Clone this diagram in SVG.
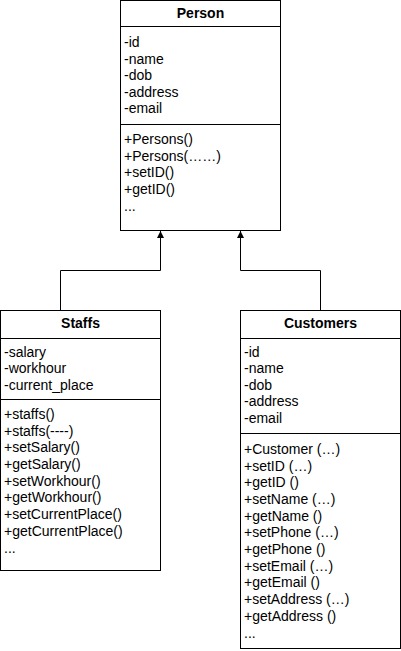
<svg xmlns="http://www.w3.org/2000/svg" width="401" height="651" viewBox="0 0 401 651">
<style>
.box{fill:#fff;stroke:#000;stroke-width:1}
.ln{stroke:#000;stroke-width:1;fill:none}
.t{font-family:"Liberation Sans",Arial,sans-serif;font-size:14px;fill:#000}
.h{font-family:"Liberation Sans",Arial,sans-serif;font-size:14px;font-weight:bold;fill:#000;text-anchor:middle}
</style>
<defs>
<marker id="arr" viewBox="0 0 10 10" refX="10" refY="5" markerWidth="8" markerHeight="7" orient="auto" markerUnits="userSpaceOnUse">
<path d="M0,0 L10,5 L0,10 Z" fill="#000"/>
</marker>
</defs>
<rect width="401" height="651" fill="#fff"/>
<g id="connectors">
<path class="ln" d="M60.5,310.5 V270.5 H160.5 V231" marker-end="url(#arr)"/>
<path class="ln" d="M320.5,310.5 V270.5 H240.5 V231" marker-end="url(#arr)"/>
</g>
<g id="person">
<rect class="box" x="120.5" y="0.5" width="160" height="230"/>
<line class="ln" x1="120.5" y1="26.5" x2="280.5" y2="26.5"/>
<line class="ln" x1="120.5" y1="124.5" x2="280.5" y2="124.5"/>
<text class="h" x="200.5" y="18">Person</text>
<text class="t"><tspan x="124" y="47">-id</tspan><tspan x="124" y="64">-name</tspan><tspan x="124" y="80">-dob</tspan><tspan x="124" y="97">-address</tspan><tspan x="124" y="113">-email</tspan></text>
<text class="t"><tspan x="124" y="144">+Persons()</tspan><tspan x="124" y="161">+Persons(……)</tspan><tspan x="124" y="177">+setID()</tspan><tspan x="124" y="194">+getID()</tspan><tspan x="124" y="211">...</tspan></text>
</g>
<g id="staffs">
<rect class="box" x="0.5" y="310.5" width="160" height="260"/>
<line class="ln" x1="0.5" y1="338.5" x2="160.5" y2="338.5"/>
<line class="ln" x1="0.5" y1="399.5" x2="160.5" y2="399.5"/>
<text class="h" x="80.5" y="328">Staffs</text>
<text class="t"><tspan x="4" y="357">-salary</tspan><tspan x="4" y="373">-workhour</tspan><tspan x="4" y="390">-current_place</tspan></text>
<text class="t"><tspan x="4" y="419">+staffs()</tspan><tspan x="4" y="436">+staffs(----)</tspan><tspan x="4" y="452">+setSalary()</tspan><tspan x="4" y="469">+getSalary()</tspan><tspan x="4" y="486">+setWorkhour()</tspan><tspan x="4" y="502">+getWorkhour()</tspan><tspan x="4" y="519">+setCurrentPlace()</tspan><tspan x="4" y="536">+getCurrentPlace()</tspan><tspan x="4" y="553">...</tspan></text>
</g>
<g id="customers">
<rect class="box" x="240.5" y="310.5" width="160" height="338"/>
<line class="ln" x1="240.5" y1="338.5" x2="400.5" y2="338.5"/>
<line class="ln" x1="240.5" y1="433.5" x2="400.5" y2="433.5"/>
<text class="h" x="320.5" y="328">Customers</text>
<text class="t"><tspan x="244" y="357">-id</tspan><tspan x="244" y="373">-name</tspan><tspan x="244" y="390">-dob</tspan><tspan x="244" y="406">-address</tspan><tspan x="244" y="423">-email</tspan></text>
<text class="t"><tspan x="244" y="454">+Customer (…)</tspan><tspan x="244" y="471">+setID (…)</tspan><tspan x="244" y="487">+getID ()</tspan><tspan x="244" y="504">+setName (…)</tspan><tspan x="244" y="521">+getName ()</tspan><tspan x="244" y="537">+setPhone (…)</tspan><tspan x="244" y="554">+getPhone ()</tspan><tspan x="244" y="571">+setEmail (…)</tspan><tspan x="244" y="587">+getEmail ()</tspan><tspan x="244" y="604">+setAddress (…)</tspan><tspan x="244" y="621">+getAddress ()</tspan><tspan x="244" y="638">...</tspan></text>
</g>
</svg>
